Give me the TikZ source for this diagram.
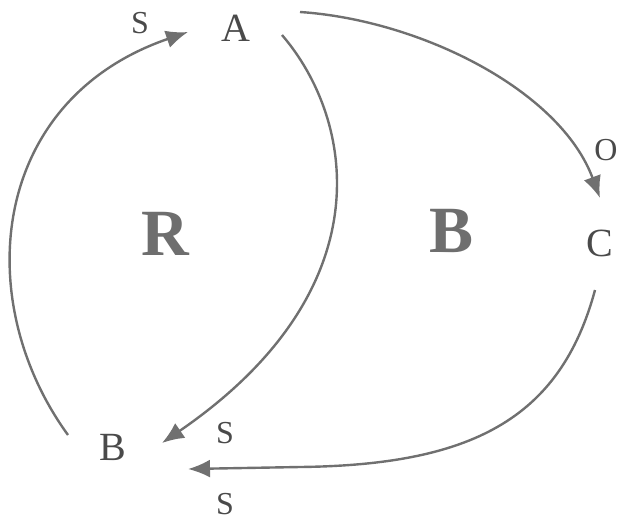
\documentclass[tikz,border=0pt]{standalone}
\usepackage{fontspec}
\setmainfont{Liberation Serif}
\usetikzlibrary{arrows.meta}
\definecolor{linegray}{HTML}{707070}
\definecolor{txtgray}{HTML}{4A4A4A}
\tikzset{
  lbl/.style={inner sep=0pt, text=txtgray, font=\fontsize{32}{34}\selectfont},
  big/.style={inner sep=0pt, text=txtgray, font=\fontsize{40}{42}\selectfont},
  loopname/.style={inner sep=0pt, text=txtgray!80, font=\bfseries\fontsize{66}{68}\selectfont},
  link/.style={draw=linegray, line width=2.4pt, -{Latex[length=22pt,width=18pt]}},
}
\begin{document}
\begin{tikzpicture}[x=1pt,y=-1pt]
\useasboundingbox (0,0) rectangle (620,522);
% variables
\node[big] (A) at (236,28) {A};
\node[big] (C) at (600,243) {C};
\node[big] (Bv) at (113,447) {B};
% polarity labels
\node[lbl] (s1) at (140,23) {S};
\node[lbl] (o1) at (606,150) {O};
\node[lbl] (s2) at (225,433) {S};
\node[lbl] (s3) at (225,504) {S};
% loop labels
\node[loopname] (R) at (165,234) {R};
\node[loopname] (Bl) at (452,231) {B};
% connector ends
\coordinate (b1) at (68,435);
\coordinate (a1) at (188,32);
\coordinate (a2) at (300,12);
\coordinate (c1) at (600,198);
\coordinate (a3) at (282,35);
\coordinate (b2) at (162,443);
\coordinate (c2) at (595,290);
\coordinate (bm) at (300,467);
\coordinate (b3) at (188,469);
% connectors
\draw[link] (b1) .. controls (-30,300) and (-10,100) .. (a1);
\draw[link] (a2) .. controls (420,20) and (560,90) .. (c1);
\draw[link] (a3) .. controls (355,120) and (385,290) .. (b2);
\draw[link] (c2) .. controls (560,420) and (470,465) .. (bm) -- (b3);
\end{tikzpicture}
\end{document}
